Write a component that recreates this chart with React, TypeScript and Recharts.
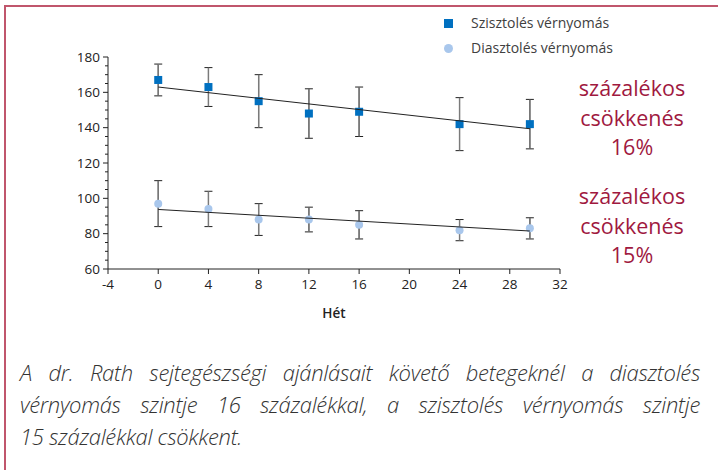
import React from 'react';
import { ScatterChart, Scatter, XAxis, YAxis, ErrorBar } from 'recharts';

const weeks = [0, 4, 8, 12, 16, 24, 29.6];
const sysMean = [167, 163, 155, 148, 149, 142, 142];
const sysLow = [158, 152, 140, 134, 135, 127, 128];
const sysHigh = [176, 174, 170, 162, 163, 157, 156];
const diaMean = [97, 94, 88, 88, 85, 82, 83];
const diaLow = [84, 84, 79, 81, 77, 76, 77];
const diaHigh = [110, 104, 97, 95, 93, 88, 89];

const trendWeeks = [0, 29.6];
const sysTrend = [163, 139.4];
const diaTrend = [93.7, 81.5];

const xTicks = [-4, 0, 4, 8, 12, 16, 20, 24, 28, 32];
const yMajorTicks = [60, 80, 100, 120, 140, 160, 180];
const yMinorStep = 5;

const legendLabels = ['Szisztolés vérnyomás', 'Diasztolés vérnyomás'];
const annotation1 = ['százalékos', 'csökkenés', '16%'];
const annotation2 = ['százalékos', 'csökkenés', '15%'];
const captionLines = [
  'A dr. Rath sejtegészségi ajánlásait követő betegeknél a diasztolés',
  'vérnyomás szintje 16 százalékkal, a szisztolés vérnyomás szintje',
  '15 százalékkal csökkent.',
];

const SYS_COLOR = '#0070c0';
const DIA_COLOR = '#a9c7ec';
const RED = '#a0193f';
const FRAME = '#c0566c';
const FONT = '"Open Sans", "Noto Sans", sans-serif';

const build = (mean: number[], low: number[], high: number[]) =>
  weeks.map((w, i) => ({ x: w, y: mean[i], err: [mean[i] - low[i], high[i] - mean[i]] }));

const sysData = build(sysMean, sysLow, sysHigh);
const diaData = build(diaMean, diaLow, diaHigh);
const sysTrendData = trendWeeks.map((w, i) => ({ x: w, y: sysTrend[i] }));
const diaTrendData = trendWeeks.map((w, i) => ({ x: w, y: diaTrend[i] }));

const yTicks: number[] = [];
for (let v = yMajorTicks[0]; v <= yMajorTicks[yMajorTicks.length - 1]; v += yMinorStep) yTicks.push(v);

const YTick = (props: any) => {
  const { x, y, payload } = props;
  const major = yMajorTicks.includes(payload.value);
  return (
    <g>
      <line x1={x - (major ? 5 : 3)} x2={x} y1={y} y2={y} stroke="#222" strokeWidth={1} />
      {major && (
        <text x={x - 8} y={y} dy="0.35em" textAnchor="end" fill="#222" fontSize={13.5} fontFamily={FONT}>
          {payload.value}
        </text>
      )}
    </g>
  );
};

const SquareShape = (props: any) => {
  const { cx, cy } = props;
  return <rect x={cx - 4} y={cy - 4} width={8} height={8} fill={SYS_COLOR} />;
};
const CircleShape = (props: any) => {
  const { cx, cy } = props;
  return <circle cx={cx} cy={cy} r={4} fill={DIA_COLOR} />;
};
const NoShape = () => <g />;

export default function App() {
  return (
    <div style={{ position: 'absolute', left: 0, top: 0, width: 718, height: 470, background: '#fff', overflow: 'hidden' }}>
      {/* frame */}
      <div style={{ position: 'absolute', left: 4, top: 5, width: 714, height: 2, background: FRAME }} />
      <div style={{ position: 'absolute', left: 4, top: 5, width: 2, height: 465, background: FRAME }} />

      <div style={{ position: 'absolute', left: 0, top: 0 }}>
        <ScatterChart width={718} height={330} margin={{ top: 57, right: 158, bottom: 10, left: 68 }}>
          <XAxis
            type="number"
            dataKey="x"
            domain={[-4, 32]}
            ticks={xTicks}
            interval={0}
            allowDataOverflow
            tickSize={5}
            tickMargin={5}
            height={51}
            axisLine={{ stroke: '#222' }}
            tickLine={{ stroke: '#222' }}
            tick={{ fill: '#222', fontSize: 13.5, fontFamily: FONT }}
            label={{ value: 'Hét', position: 'insideBottom', offset: 2, fill: '#222', fontSize: 13.5, fontWeight: 600, fontFamily: FONT }}
          />
          <YAxis
            type="number"
            dataKey="y"
            domain={[60, 180]}
            ticks={yTicks}
            interval={0}
            allowDataOverflow
            width={40}
            tickSize={0}
            tickMargin={0}
            tickLine={false}
            axisLine={{ stroke: '#222' }}
            tick={<YTick />}
          />
          <Scatter data={sysData} isAnimationActive={false} shape={<SquareShape />}>
            <ErrorBar dataKey="err" direction="y" width={4} stroke="#222" strokeWidth={1} isAnimationActive={false} />
            <ErrorBar dataKey="err" direction="y" width={0} stroke="#7a7a7a" strokeWidth={1.4} isAnimationActive={false} />
          </Scatter>
          <Scatter data={diaData} isAnimationActive={false} shape={<CircleShape />}>
            <ErrorBar dataKey="err" direction="y" width={4} stroke="#222" strokeWidth={1} isAnimationActive={false} />
            <ErrorBar dataKey="err" direction="y" width={0} stroke="#7a7a7a" strokeWidth={1.4} isAnimationActive={false} />
          </Scatter>
          <Scatter data={sysTrendData} isAnimationActive={false} shape={<NoShape />} line={{ stroke: '#222', strokeWidth: 1 }} />
          <Scatter data={diaTrendData} isAnimationActive={false} shape={<NoShape />} line={{ stroke: '#222', strokeWidth: 1 }} />
        </ScatterChart>
      </div>

      {/* legend */}
      <div style={{ position: 'absolute', left: 444, top: 19, width: 9, height: 9, background: SYS_COLOR }} />
      <div style={{ position: 'absolute', left: 471, top: 13, fontFamily: FONT, fontSize: 14, lineHeight: '20px', color: '#404040' }}>
        {legendLabels[0]}
      </div>
      <div style={{ position: 'absolute', left: 444, top: 44, width: 9, height: 9, borderRadius: '50%', background: DIA_COLOR }} />
      <div style={{ position: 'absolute', left: 471, top: 38, fontFamily: FONT, fontSize: 14, lineHeight: '20px', color: '#404040' }}>
        {legendLabels[1]}
      </div>

      {/* annotations */}
      <div style={{ position: 'absolute', left: 562, top: 73, width: 140, textAlign: 'center', fontFamily: FONT, fontSize: 21.5, fontWeight: 500, lineHeight: '29.5px', color: RED }}>
        {annotation1.map((t, i) => <div key={i}>{t}</div>)}
      </div>
      <div style={{ position: 'absolute', left: 562, top: 181, width: 140, textAlign: 'center', fontFamily: FONT, fontSize: 21.5, fontWeight: 500, lineHeight: '29.5px', color: RED }}>
        {annotation2.map((t, i) => <div key={i}>{t}</div>)}
      </div>

      {/* caption */}
      <div style={{ position: 'absolute', left: 20, top: 356, width: 680, fontFamily: FONT, fontStyle: 'italic', fontWeight: 300, fontSize: 22, letterSpacing: '-0.3px', lineHeight: '32px', color: '#333' }}>
        {captionLines.map((l, i) => (
          <div key={i} style={{ whiteSpace: 'nowrap', textAlign: i < 2 ? 'justify' : 'left', textAlignLast: i < 2 ? 'justify' : 'left' } as any}>
            {l}
          </div>
        ))}
      </div>
    </div>
  );
}
